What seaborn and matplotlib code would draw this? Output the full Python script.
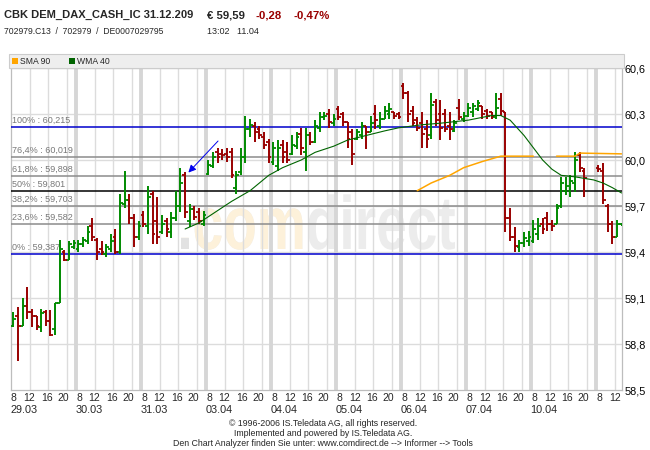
import numpy as np
import pandas as pd
import matplotlib
matplotlib.use("Agg")
import matplotlib.pyplot as plt
import matplotlib.transforms as mtransforms
from matplotlib.patches import Rectangle, PathPatch
from matplotlib.textpath import TextPath
from matplotlib.font_manager import FontProperties
import seaborn as sns

sns.set_style("white")
plt.rcParams['font.family'] = ['Liberation Sans', 'DejaVu Sans']

nan = np.nan

# === Data (hourly OHLC bars, 14 slots per day 8h-22h) ===
days = ["29.03", "30.03", "31.03", "03.04", "04.04", "05.04", "06.04", "07.04", "10.04", "11.04"]
hour_ticks = [8, 12, 16, 20]

opens = [
    58.92, 58.98, 58.92, 59.05, 59.01, 58.98, 58.91, 59.01, 58.95, 58.90, 59.07, 59.40, 59.35, 59.43,  # 29.03
    59.42, 59.45, 59.47, 59.57, 59.48, 59.42, 59.39, 59.42, 59.50, 59.40, 59.71, 59.74, 59.62, 59.50,  # 30.03
    59.64, 59.57, 59.78, 59.60, 59.53, 59.60, 59.53, 59.62, 59.70, 59.90, 59.60, 59.68, 59.66, 59.58,  # 31.03
    59.91, 59.96, 60.05, 60.04, 60.04, 60.05, 59.82, 59.92, 60.02, 60.20, 60.22, 60.20, 60.15, 60.12,  # 03.04
    59.99, 59.96, 60.10, 60.05, 60.04, 60.09, 60.17, 60.05, 60.16, 60.12, 60.21, 60.28, 60.30, 60.24,  # 04.04
    60.33, 60.30, 60.25, 60.18, 60.14, 60.16, 60.22, 60.18, 60.30, 60.22, 60.27, 60.30, 60.31, 60.30,  # 05.04
    60.48, 60.44, 60.32, 60.26, 60.24, 60.20, 60.16, 60.38, 60.30, 60.30, 60.22, 60.19, 60.34, 60.27,  # 06.04
    60.29, 60.31, 60.33, 60.35, 60.32, 60.31, 60.28, 60.40, 60.31, 59.62, 59.50, 59.43, 59.46, 59.47,  # 07.04
    59.47, 59.52, 59.58, 59.62, 59.58, 59.58, 59.70, 59.80, 59.80, 59.85, 60.03, 59.93, nan, nan,      # 10.04
    59.95, 59.93, 59.70, 59.58, 59.50, 59.58,                                                          # 11.04
]
highs = [
    59.01, 59.04, 59.10, 59.17, 59.03, 58.98, 59.03, 59.02, 59.02, 59.07, 59.48, 59.41, 59.47, 59.48,
    59.48, 59.50, 59.57, 59.62, 59.49, 59.47, 59.45, 59.52, 59.55, 59.78, 59.93, 59.78, 59.65, 59.60,
    59.67, 59.83, 59.80, 59.76, 59.64, 59.62, 59.66, 59.80, 59.95, 59.92, 59.71, 59.70, 59.69, 59.67,
    60.00, 60.05, 60.08, 60.07, 60.08, 60.08, 59.93, 60.08, 60.29, 60.27, 60.25, 60.22, 60.18, 60.14,
    60.12, 60.13, 60.13, 60.12, 60.16, 60.18, 60.21, 60.21, 60.18, 60.26, 60.31, 60.31, 60.33, 60.30,
    60.35, 60.31, 60.25, 60.20, 60.20, 60.25, 60.22, 60.29, 60.36, 60.31, 60.35, 60.37, 60.31, 60.31,
    60.50, 60.45, 60.35, 60.28, 60.31, 60.26, 60.44, 60.40, 60.39, 60.33, 60.31, 60.26, 60.40, 60.31,
    60.37, 60.37, 60.39, 60.35, 60.33, 60.31, 60.44, 60.44, 60.31, 59.69, 59.56, 59.48, 59.53, 59.54,
    59.61, 59.62, 59.62, 59.66, 59.61, 59.71, 59.89, 59.89, 59.90, 60.05, 60.05, 59.95, nan, nan,
    59.97, 59.98, 59.71, 59.60, 59.61, 59.59,
]
lows = [
    58.91, 58.69, 58.92, 58.96, 58.91, 58.89, 58.88, 58.92, 58.85, 58.86, 59.07, 59.34, 59.35, 59.42,
    59.40, 59.43, 59.45, 59.47, 59.35, 59.38, 59.37, 59.40, 59.39, 59.39, 59.69, 59.58, 59.43, 59.48,
    59.56, 59.52, 59.45, 59.45, 59.52, 59.50, 59.49, 59.60, 59.66, 59.62, 59.56, 59.61, 59.58, 59.57,
    59.90, 59.95, 59.98, 60.00, 59.99, 59.88, 59.78, 59.90, 59.98, 60.15, 60.12, 60.14, 60.07, 59.98,
    59.97, 59.93, 59.98, 59.98, 60.03, 60.07, 60.03, 59.93, 60.10, 60.11, 60.18, 60.26, 60.21, 60.22,
    60.26, 60.22, 60.08, 59.97, 60.13, 60.14, 60.07, 60.18, 60.20, 60.20, 60.27, 60.27, 60.27, 60.27,
    60.40, 60.25, 60.22, 60.19, 60.08, 60.08, 60.14, 60.22, 60.13, 60.18, 60.13, 60.18, 60.26, 60.25,
    60.28, 60.28, 60.32, 60.27, 60.27, 60.27, 60.27, 60.29, 59.53, 59.47, 59.40, 59.40, 59.43, 59.44,
    59.46, 59.48, 59.52, 59.54, 59.54, 59.58, 59.69, 59.77, 59.76, 59.79, 59.92, 59.76, nan, nan,
    59.92, 59.71, 59.53, 59.45, 59.50, 59.57,
]
closes = [
    58.96, 58.92, 59.05, 59.01, 58.98, 58.92, 59.00, 58.95, 58.86, 59.07, 59.42, 59.35, 59.45, 59.46,
    59.45, 59.48, 59.53, 59.50, 59.40, 59.40, 59.43, 59.47, 59.40, 59.72, 59.74, 59.62, 59.50, 59.57,
    59.58, 59.76, 59.52, 59.50, 59.58, 59.55, 59.62, 59.70, 59.85, 59.66, 59.68, 59.63, 59.60, 59.64,
    59.97, 60.02, 60.02, 60.03, 60.02, 59.90, 59.90, 60.02, 60.20, 60.23, 60.18, 60.16, 60.10, 60.02,
    60.08, 60.08, 60.02, 60.00, 60.10, 60.15, 60.08, 60.16, 60.12, 60.22, 60.28, 60.29, 60.25, 60.27,
    60.28, 60.25, 60.14, 60.04, 60.18, 60.22, 60.18, 60.24, 60.26, 60.27, 60.32, 60.33, 60.29, 60.28,
    60.44, 60.30, 60.24, 60.21, 60.17, 60.14, 60.36, 60.26, 60.21, 60.20, 60.20, 60.24, 60.28, 60.29,
    60.34, 60.35, 60.37, 60.30, 60.29, 60.29, 60.34, 60.32, 59.62, 59.50, 59.44, 59.46, 59.49, 59.50,
    59.55, 59.57, 59.55, 59.58, 59.57, 59.69, 59.85, 59.83, 59.86, 60.00, 59.95, 59.88, nan, nan,
    59.94, 59.74, 59.58, 59.50, 59.58, 59.59,
]

# moving averages (bar index -> value)
wma_bar = [37, 40, 44, 47, 51, 55, 58, 62, 65, 69, 72, 76, 80, 83, 88, 92, 98, 103, 105,
           107, 110, 112, 114, 116, 118, 121, 125, 127, 129, 131]
wma_val = [59.55, 59.59, 59.67, 59.73, 59.80, 59.90, 59.95, 60.00, 60.05, 60.09, 60.13, 60.16,
           60.19, 60.21, 60.23, 60.24, 60.26, 60.29, 60.29, 60.26, 60.16, 60.08, 60.00, 59.94,
           59.90, 59.89, 59.87, 59.85, 59.82, 59.785]
sma_bar = [87, 90, 94, 97, 101, 105, 112, 117, 121, 122, 131]
sma_val = [59.80, 59.85, 59.90, 59.95, 59.99, 60.025, 60.025, 60.025, 60.025, 60.045, 60.04]
sma_seg = [0, 0, 0, 0, 0, 0, 0, 1, 1, 1, 1]

# fibonacci retracement
fib_pct = ["100%", "76,4%", "61,8%", "50%", "38,2%", "23,6%", "0%"]
fib_val = [60.215, 60.019, 59.898, 59.801, 59.703, 59.582, 59.387]
fib_col = ["#0000cc", "#8c8c8c", "#8c8c8c", "#000000", "#8c8c8c", "#8c8c8c", "#0000cc"]

y_ticks = [58.5, 58.8, 59.1, 59.4, 59.7, 60.0, 60.3, 60.6]

GREEN = "#008a00"
RED = "#990000"
DAY = 14
XMAX = 611 / 4.643

# === Figure ===
W, H = 650, 450
fig = plt.figure(figsize=(6.5, 4.5), dpi=100)


def fx(px):
    return px / W


def fy(py):
    return 1 - py / H


ax = fig.add_axes([fx(11), fy(390), fx(622) - fx(11), fy(68) - fy(390)])
ax.set_xlim(0, XMAX)
ax.set_ylim(58.5, 60.6)
for s in ax.spines.values():
    s.set_color("#bdbdbd")
    s.set_linewidth(0.9)

# grid
for y in y_ticks[1:-1]:
    ax.axhline(y, color="#dcdcdc", lw=1.0, zorder=1)
for d in range(len(days)):
    if d > 0:
        ax.axvline(d * DAY, color="#d6d6d6", lw=2.8, zorder=1)
    for h in hour_ticks[1:]:
        ax.axvline(d * DAY + h - 8, color="#dcdcdc", lw=1.0, zorder=1)

# watermark
wm_prop = FontProperties(family="Liberation Sans", weight="bold")
full = TextPath((0, 0), ".comdirect", size=1, prop=wm_prop)
ext = full.get_extents()
sx = (455 - 181) / ext.width
sy = 40 / 0.53
wm_tr = (mtransforms.Affine2D().translate(-ext.x0, 0).scale(sx, sy).translate(181, H - 249)
         + mtransforms.Affine2D().scale(1 / W, 1 / H) + fig.transFigure)
for txt, col in [(".comdirect", "#ececec"), (".com", "#fdf1da"), (".", "#e2e2e2")]:
    p = PathPatch(TextPath((0, 0), txt, size=1, prop=wm_prop), transform=wm_tr,
                  facecolor=col, edgecolor="none", zorder=0.8)
    ax.add_patch(p)

# fibonacci lines + labels
for pct, v, c in zip(fib_pct, fib_val, fib_col):
    ax.axhline(v, color=c, lw=1.1, zorder=3)
    ax.text(0.2, v + 0.012, f"{pct} : {v:.3f}".replace(".", ","), fontsize=6.5,
            color="#787878", ha="left", va="bottom", zorder=2)

# OHLC bars
bars = pd.DataFrame({"open": opens, "high": highs, "low": lows, "close": closes}, dtype=float)
bars["x"] = np.arange(len(bars)) + 0.5
bars = bars.dropna()
bars["color"] = np.where(bars["close"] >= bars["open"], GREEN, RED)
ax.vlines(bars["x"], bars["low"], bars["high"], colors=bars["color"], lw=1.4, zorder=4)
ax.hlines(bars["open"], bars["x"] - 0.6, bars["x"], colors=bars["color"], lw=1.3, zorder=4)
ax.hlines(bars["close"], bars["x"], bars["x"] + 0.6, colors=bars["color"], lw=1.3, zorder=4)

# moving averages
wma = pd.DataFrame({"x": np.array(wma_bar) + 0.5, "v": wma_val})
sma = pd.DataFrame({"x": np.array(sma_bar) + 0.5, "v": sma_val, "seg": sma_seg})
sns.lineplot(data=wma, x="x", y="v", color="#006400", lw=0.8, ax=ax, zorder=5)
sns.lineplot(data=sma, x="x", y="v", units="seg", estimator=None, color="#ffa500",
             lw=1.1, ax=ax, zorder=5)

# blue arrow
ax.annotate("", xy=(37.8, 59.905), xytext=(45.0, 60.137),
            arrowprops=dict(arrowstyle="-|>", color="#0000ee", lw=0.7, mutation_scale=11),
            zorder=6)

# axes ticks (hour labels drawn as text so they can be nudged apart)
ax.set_xticks([])
ax.set_yticks(y_ticks)
ax.set_yticklabels([f"{v:.1f}".replace(".", ",") for v in y_ticks])
ax.yaxis.tick_right()
ax.tick_params(axis="y", length=0, labelsize=7.8, colors="black", pad=2)
ax.set_xlabel("")
ax.set_ylabel("")
nudge = {8: 0.75, 12: 0.0, 16: -0.3, 20: -0.7}
xtr = ax.get_xaxis_transform()
for d in range(len(days)):
    for h in hour_ticks:
        pos = d * DAY + h - 8
        if pos < XMAX:
            shift = 0.45 if (d == 0 and h == 8) else nudge[h]
            ax.text(pos + shift, -0.024, str(h), transform=xtr, fontsize=7.5,
                    ha="center", va="center")
for d, lab in enumerate(days[:-1]):
    ax.text(d * DAY - 0.1, -0.062, lab, transform=xtr, fontsize=7.8, ha="left", va="center")

# legend band
fig.add_artist(Rectangle((fx(9), fy(68)), fx(624) - fx(9), 14 / H, transform=fig.transFigure,
                         facecolor="#eeeeee", edgecolor="#cccccc", lw=0.8))
fig.add_artist(Rectangle((fx(12), fy(64)), 6 / W, 6 / H, transform=fig.transFigure,
                         facecolor="#ffa500", edgecolor="none"))
fig.add_artist(Rectangle((fx(69), fy(64)), 6 / W, 6 / H, transform=fig.transFigure,
                         facecolor="#006400", edgecolor="none"))
fig.text(fx(20), fy(61), "SMA 90", fontsize=6.2, va="center")
fig.text(fx(77), fy(61), "WMA 40", fontsize=6.2, va="center")

# header
fig.text(fx(4), fy(15), "CBK DEM_DAX_CASH_IC 31.12.209", fontsize=8.0, fontweight="bold", va="center")
fig.text(fx(207), fy(15), "€ 59,59", fontsize=8.2, fontweight="bold", va="center")
fig.text(fx(256), fy(15), "-0,28", fontsize=8.2, fontweight="bold", va="center", color=RED)
fig.text(fx(293), fy(15), "-0,47%", fontsize=8.2, fontweight="bold", va="center", color=RED)
fig.text(fx(4), fy(32), "702979.C13  /  702979  /  DE0007029795", fontsize=6.2, va="center")
fig.text(fx(207), fy(32), "13:02   11.04", fontsize=6.5, va="center")

# footer
footer = ["© 1996-2006 IS.Teledata AG, all rights reserved.",
          "Implemented and powered by IS.Teledata AG.",
          "Den Chart Analyzer finden Sie unter: www.comdirect.de --> Informer --> Tools"]
for k, line in enumerate(footer):
    fig.text(fx(323), fy(424 + 10 * k), line, fontsize=6.3, ha="center", va="center")

fig.savefig("out.png", dpi=100)
